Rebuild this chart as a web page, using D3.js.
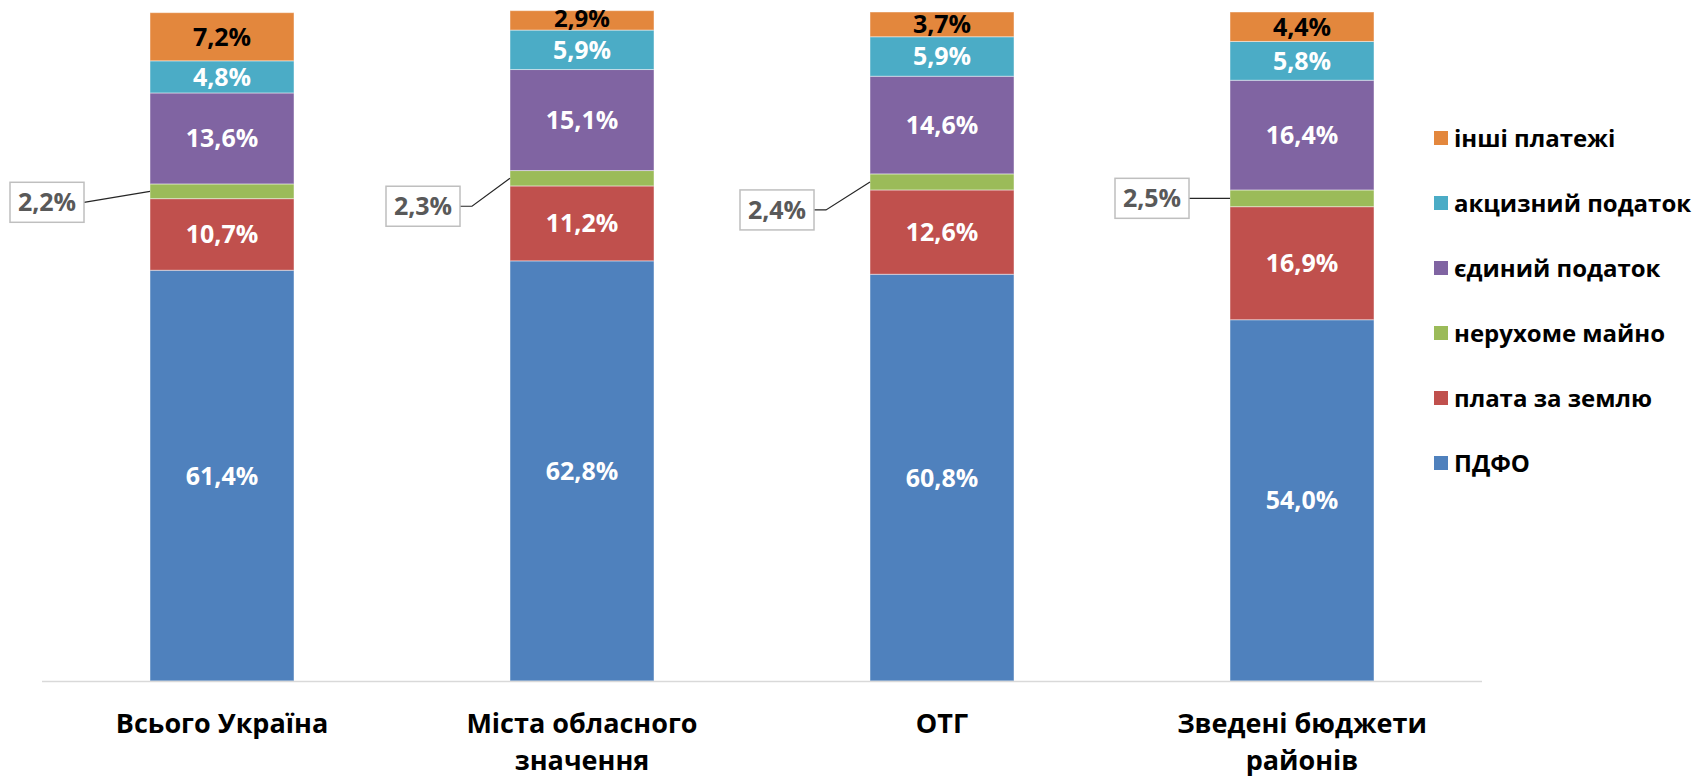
<!DOCTYPE html>
<html>
<head>
<meta charset="utf-8">
<script src="https://cdn.jsdelivr.net/npm/d3@7"></script>
<style>
  html, body { margin: 0; padding: 0; background: #ffffff; }
  svg { display: block; font-family: "Open Sans", "Noto Sans", sans-serif; }
</style>
</head>
<body>
<svg id="chart" width="1696" height="777"></svg>
<script>
// ---- data ----
const categories = [["Всього Україна"], ["Міста обласного", "значення"], ["ОТГ"], ["Зведені бюджети", "районів"]];
const seriesNames = ["ПДФО", "плата за землю", "нерухоме майно", "єдиний податок", "акцизний податок", "інші платежі"];
const pdfo      = [61.4, 62.8, 60.8, 54.0];
const landFee   = [10.7, 11.2, 12.6, 16.9];
const property  = [2.2, 2.3, 2.4, 2.5];
const singleTax = [13.6, 15.1, 14.6, 16.4];
const excise    = [4.8, 5.9, 5.9, 5.8];
const other     = [7.2, 2.9, 3.7, 4.4];
const seriesValues = [pdfo, landFee, property, singleTax, excise, other];

// ---- styles / layout ----
const colors = ["#4F81BD", "#C0504D", "#9BBB59", "#8064A2", "#4BACC6", "#E3873D"];
const labelColors = ["#ffffff", "#ffffff", null, "#ffffff", "#ffffff", "#000000"];
// leader-label layout for the small "нерухоме майно" segment
const leaderLayout = [
  { dx: -66, dy: 11, elbow: 0 },
  { dx: -50, dy: 28, elbow: 12 },
  { dx: -56, dy: 28, elbow: 12 },
  { dx: -41, dy: 0, elbow: 0 }
];

const svg = d3.select("#chart");
const x = d3.scaleBand().domain(d3.range(categories.length)).range([42, 1482]).paddingInner(0.6).paddingOuter(0.3);
const y = d3.scaleLinear().domain([0, 100]).range([681, 12]);

const rows = categories.map((c, i) => {
  const r = { idx: i };
  seriesNames.forEach((s, k) => r[s] = seriesValues[k][i]);
  return r;
});
const stacked = d3.stack().keys(seriesNames)(rows);

const fmt = v => v.toFixed(1).replace(".", ",") + "%";

// bars
const layers = svg.append("g").selectAll("g").data(stacked).join("g")
  .attr("fill", (d, k) => colors[k]);
layers.selectAll("rect").data(d => d).join("rect")
  .attr("x", d => x(d.data.idx))
  .attr("width", x.bandwidth())
  .attr("y", d => y(d[1]))
  .attr("height", d => y(d[0]) - y(d[1]))
  .attr("stroke", "#ffffff").attr("stroke-opacity", 0.45).attr("stroke-width", 1);

// axis baseline
svg.append("line").attr("x1", 42).attr("x2", 1482).attr("y1", y(0) + 0.5).attr("y2", y(0) + 0.5)
  .attr("stroke", "#D9D9D9").attr("stroke-width", 1.5);

// inside labels
stacked.forEach((layer, k) => {
  if (!labelColors[k]) return;
  svg.append("g").selectAll("text").data(layer).join("text")
    .attr("x", d => x(d.data.idx) + x.bandwidth() / 2)
    .attr("y", d => {
      const h = y(d[0]) - y(d[1]);
      return (y(d[0]) + y(d[1])) / 2 - (h < 22 ? 2 : 0);
    })
    .attr("dy", "0.36em")
    .attr("text-anchor", "middle")
    .attr("font-size", d => (y(d[0]) - y(d[1]) < 22 ? 24 : 25)).attr("font-weight", 700)
    .attr("fill", labelColors[k])
    .text(d => fmt(d[1] - d[0]));
});

// leader labels for small segment
const small = stacked[2];
small.forEach((d, i) => {
  const L = leaderLayout[i];
  const segC = (y(d[0]) + y(d[1])) / 2;
  const barLeft = x(d.data.idx);
  const bw = 74, bh = 40;
  const bx1 = barLeft + L.dx, bcy = segC + L.dy;
  const g = svg.append("g");
  g.append("path")
    .attr("d", `M${bx1},${bcy} L${bx1 + L.elbow},${bcy} L${barLeft},${segC}`)
    .attr("fill", "none").attr("stroke", "#262626").attr("stroke-width", 1.2);
  g.append("rect").attr("x", bx1 - bw).attr("y", bcy - bh / 2).attr("width", bw).attr("height", bh)
    .attr("fill", "#ffffff").attr("stroke", "#BFBFBF").attr("stroke-width", 1.5);
  g.append("text").attr("x", bx1 - bw / 2).attr("y", bcy).attr("dy", "0.36em")
    .attr("text-anchor", "middle").attr("font-size", 25).attr("font-weight", 700)
    .attr("fill", "#595959").text(fmt(d[1] - d[0]));
});

// category labels
const cat = svg.append("g").selectAll("text").data(categories).join("text")
  .attr("text-anchor", "middle").attr("font-size", 27).attr("font-weight", 700).attr("fill", "#000000");
cat.each(function(lines, i) {
  const t = d3.select(this);
  lines.forEach((ln, j) => {
    t.append("tspan").attr("x", x(i) + x.bandwidth() / 2).attr("y", 733 + j * 37).text(ln);
  });
});

// legend (reverse order, top = інші платежі)
const legendOrder = d3.range(seriesNames.length).reverse();
const lg = svg.append("g").selectAll("g").data(legendOrder).join("g")
  .attr("transform", (k, j) => `translate(1434, ${138 + j * 65})`);
lg.append("rect").attr("x", 0).attr("y", -7).attr("width", 14).attr("height", 14).attr("fill", k => colors[k]);
lg.append("text").attr("x", 20).attr("y", 0).attr("dy", "0.36em")
  .attr("font-size", 24).attr("font-weight", 700).attr("fill", "#000000")
  .text(k => seriesNames[k]);
</script>
</body>
</html>
